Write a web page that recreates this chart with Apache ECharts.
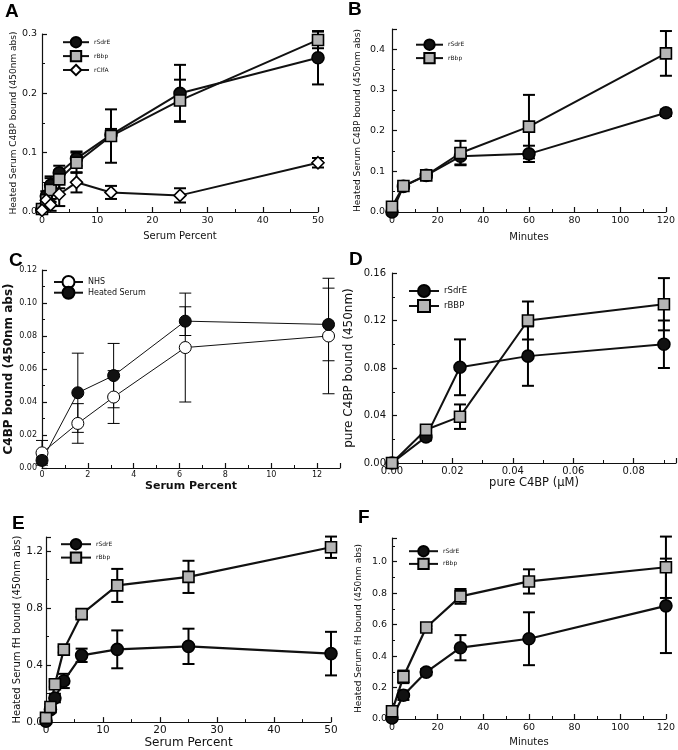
<!DOCTYPE html>
<html lang="en">
<head>
<meta charset="utf-8">
<title>C4BP and fH binding</title>
<style>
  html, body { margin: 0; padding: 0; background: #fff; }
  #chart { width: 678px; height: 750px; }
</style>
</head>
<body>
<div id="chart"></div>
<script src="https://cdn.jsdelivr.net/npm/echarts@6/dist/echarts.min.js"></script>
<script>
// ---- panel A: heated serum C4BP vs serum percent
var serumA = [0, 0.78, 1.56, 3.125, 6.25, 12.5, 25, 50];
var aSdrE = [0.005, 0.027, 0.045, 0.066, 0.09, 0.13, 0.2, 0.26];
var aSdrEErr = [0.003, 0.008, 0.015, 0.012, 0.012, 0.01, 0.048, 0.045];
var aBbp = [0.005, 0.02, 0.037, 0.055, 0.083, 0.128, 0.188, 0.29];
var aBbpErr = [0.003, 0.008, 0.02, 0.015, 0.017, 0.045, 0.035, 0.014];
var aClfA = [0.003, 0.02, 0.012, 0.03, 0.05, 0.033, 0.028, 0.083];
var aClfAErr = [0.002, 0.006, 0.01, 0.02, 0.017, 0.011, 0.012, 0.008];

// ---- panel B: heated serum C4BP vs minutes
var minutesB = [0, 5, 15, 30, 60, 120];
var bSdrE = [0.0, 0.063, 0.09, 0.137, 0.143, 0.244];
var bSdrEErr = [0.003, 0.005, 0.006, 0.02, 0.02, 0.008];
var bBbp = [0.013, 0.064, 0.09, 0.145, 0.21, 0.39];
var bBbpErr = [0.004, 0.006, 0.006, 0.03, 0.078, 0.055];

// ---- panel C: NHS vs heated serum
var serumC = [0, 1.5625, 3.125, 6.25, 12.5];
var cNHS = [0.0092, 0.027, 0.043, 0.073, 0.08];
var cNHSErr = [0.0075, 0.012, 0.016, 0.033, 0.035];
var cHeated = [0.0046, 0.0456, 0.056, 0.089, 0.087];
var cHeatedErr = [0.002, 0.024, 0.0195, 0.0087, 0.022];

// ---- panel D: pure C4BP
var c4bpD = [0, 0.01125, 0.0225, 0.045, 0.09];
var dSdrE = [0, 0.022, 0.0806, 0.09, 0.1];
var dSdrEErr = [0.001, 0.003, 0.0235, 0.025, 0.02];
var dBBP = [0, 0.028, 0.039, 0.12, 0.1337];
var dBBPErr = [0.001, 0.003, 0.0103, 0.016, 0.022];

// ---- panel E: heated serum fH vs serum percent
var serumE = [0, 0.78, 1.56, 3.125, 6.25, 12.5, 25, 50];
var eSdrE = [0.007, 0.088, 0.169, 0.289, 0.469, 0.511, 0.532, 0.481];
var eSdrEErr = [0.01, 0.02, 0.03, 0.05, 0.047, 0.133, 0.124, 0.153];
var eBbp = [0.03, 0.106, 0.266, 0.509, 0.758, 0.96, 1.02, 1.228];
var eBbpErr = [0.01, 0.02, 0.02, 0.02, 0.02, 0.116, 0.113, 0.075];

// ---- panel F: heated serum fH vs minutes
var minutesF = [0, 5, 15, 30, 60, 120];
var fSdrE = [0.006, 0.151, 0.298, 0.453, 0.51, 0.719];
var fSdrEErr = [0.01, 0.03, 0.02, 0.08, 0.168, 0.3];
var fBbp = [0.049, 0.268, 0.581, 0.779, 0.874, 0.964];
var fBbpErr = [0.01, 0.04, 0.01, 0.047, 0.077, 0.195];

var FONT = 'DejaVu Sans';
var INK = '#111';
var GREY = '#b5b5b5';

var marks = {
  circle: { symbol: 'circle', fill: INK, size: 12 },
  square: { symbol: 'rect', fill: GREY, size: 11 },
  diamond: { symbol: 'diamond', fill: '#fff', size: 12 },
  open: { symbol: 'circle', fill: '#fff', size: 12 }
};

function pairs(xs, ys) {
  return xs.map(function (x, i) { return [x, ys[i]]; });
}

function line(g, name, xs, ys, mark, lw) {
  var m = marks[mark];
  return {
    type: 'line', name: name, xAxisIndex: g, yAxisIndex: g, z: 3, clip: false,
    data: pairs(xs, ys), symbol: m.symbol, symbolSize: m.size,
    animation: false,
    lineStyle: { color: INK, width: lw },
    itemStyle: { color: m.fill, borderColor: '#000', borderWidth: lw > 1.5 ? 1.6 : 1 }
  };
}

// vertical error bar with caps, drawn under the markers
function errBars(g, xs, ys, errs, lw) {
  return {
    type: 'custom', xAxisIndex: g, yAxisIndex: g, z: 2, clip: false, silent: true,
    animation: false,
    data: xs.map(function (x, i) { return [x, ys[i] - errs[i], ys[i] + errs[i]]; }),
    encode: { x: 0, y: [1, 2] },
    renderItem: function (params, api) {
      var lo = api.coord([api.value(0), api.value(1)]);
      var hi = api.coord([api.value(0), api.value(2)]);
      var cap = 6;
      var st = { stroke: '#000', lineWidth: lw };
      return {
        type: 'group',
        children: [
          { type: 'line', shape: { x1: lo[0], y1: lo[1], x2: hi[0], y2: hi[1] }, style: st },
          { type: 'line', shape: { x1: lo[0] - cap, y1: lo[1], x2: lo[0] + cap, y2: lo[1] }, style: st },
          { type: 'line', shape: { x1: hi[0] - cap, y1: hi[1], x2: hi[0] + cap, y2: hi[1] }, style: st }
        ]
      };
    }
  };
}

function axis(o) {
  return {
    type: 'value', gridIndex: o.grid, min: 0, max: o.max, interval: o.step,
    name: o.name, nameLocation: 'middle', nameGap: o.gap,
    nameTextStyle: { fontFamily: FONT, fontSize: o.nameSize, fontWeight: o.bold ? 'bold' : 'normal', color: INK },
    axisLine: { show: true, onZero: false, lineStyle: { color: INK, width: 1.2 } },
    axisTick: { show: true, inside: true, length: 5, lineStyle: { color: INK, width: 1.2 } },
    minorTick: { show: true, splitNumber: 2, length: 3, lineStyle: { color: INK, width: 1 } },
    splitLine: { show: false },
    axisLabel: {
      fontFamily: FONT, fontSize: o.labelSize, color: INK, margin: o.margin,
      fontWeight: o.labelBold ? 'bold' : 'normal',
      showMaxLabel: o.hideMax ? false : null,
      formatter: function (v) { return v.toFixed(o.digits); }
    }
  };
}

function legend(names, left, top, w, h, gap, fs) {
  return {
    data: names, orient: 'vertical', left: left, top: top, padding: 0,
    itemWidth: w, itemHeight: h, itemGap: gap, selectedMode: false,
    textStyle: { fontFamily: FONT, fontSize: fs, color: INK }
  };
}

function letter(t, left, top) {
  return {
    text: t, left: left, top: top, padding: 0,
    textStyle: { fontFamily: 'Liberation Sans', fontSize: 19, fontWeight: 'bold', color: '#000' }
  };
}

var chart = echarts.init(document.getElementById('chart'), null, { renderer: 'canvas' });

var option = {
  backgroundColor: '#fff',
  animation: false,
  title: [
    letter('A', 5, 2), letter('B', 348, 0), letter('C', 9, 251),
    letter('D', 349, 250), letter('E', 12, 514), letter('F', 358, 508)
  ],
  legend: [
    legend(['rSdrE', 'rBbp', 'rClfA'], 62, 36, 26, 13, 1.5, 6),
    legend(['rSdrE', 'rBbp'], 415, 38.5, 27, 13, 1, 6),
    legend(['NHS', 'Heated Serum'], 53, 275, 29, 15, -3.3, 8),
    legend(['rSdrE', 'rBBP'], 408, 284, 30, 15, 1, 8.5),
    legend(['rSdrE', 'rBbp'], 60, 538, 30, 13, 1, 6),
    legend(['rSdrE', 'rBbp'], 408, 545, 29, 13, 0.3, 6)
  ],
  grid: [
    { left: 42, top: 34, width: 276, height: 178 },
    { left: 392, top: 29, width: 276, height: 183 },
    { left: 42, top: 270, width: 298, height: 198 },
    { left: 392, top: 273, width: 284, height: 190 },
    { left: 46, top: 537, width: 285, height: 187 },
    { left: 392, top: 538, width: 276, height: 181 }
  ],
  xAxis: [
    axis({ grid: 0, max: 50, step: 10, digits: 0, name: 'Serum Percent', gap: 19, nameSize: 10, labelSize: 9.5, margin: 4 }),
    axis({ grid: 1, max: 120, step: 20, digits: 0, name: 'Minutes', gap: 20, nameSize: 10, labelSize: 9.5, margin: 4 }),
    axis({ grid: 2, max: 13, step: 2, digits: 0, name: 'Serum Percent', gap: 13, nameSize: 11, bold: true, labelSize: 8, margin: 3, hideMax: true }),
    axis({ grid: 3, max: 0.094, step: 0.02, digits: 2, name: 'pure C4BP (\u03bcM)', gap: 10, nameSize: 11.5, labelSize: 10, margin: 3, hideMax: true }),
    axis({ grid: 4, max: 50, step: 10, digits: 0, name: 'Serum Percent', gap: 12, nameSize: 12, labelSize: 10.5, margin: 3 }),
    axis({ grid: 5, max: 120, step: 20, digits: 0, name: 'Minutes', gap: 18, nameSize: 10, labelSize: 9.5, margin: 4 })
  ],
  yAxis: [
    axis({ grid: 0, max: 0.3, step: 0.1, digits: 1, name: 'Heated Serum C4BP bound (450nm abs)', gap: 22, nameSize: 9, labelSize: 9.5, margin: 5 }),
    axis({ grid: 1, max: 0.45, step: 0.1, digits: 1, name: 'Heated Serum C4BP bound (450nm abs)', gap: 30, nameSize: 9, labelSize: 9.5, margin: 7, hideMax: true }),
    axis({ grid: 2, max: 0.12, step: 0.02, digits: 2, name: 'C4BP bound (450nm abs)', gap: 27, nameSize: 12, bold: true, labelSize: 8, margin: 5 }),
    axis({ grid: 3, max: 0.16, step: 0.04, digits: 2, name: 'pure C4BP bound (450nm)', gap: 37, nameSize: 12, labelSize: 10, margin: 6 }),
    axis({ grid: 4, max: 1.3, step: 0.4, digits: 1, name: 'Heated Serum fH bound (450nm abs)', gap: 24, nameSize: 10, labelSize: 10.5, margin: 3, hideMax: true }),
    axis({ grid: 5, max: 1.15, step: 0.2, digits: 1, name: 'Heated Serum fH bound (450nm abs)', gap: 29, nameSize: 9, labelSize: 9.5, margin: 5, hideMax: true })
  ],
  series: [
    errBars(0, serumA, aSdrE, aSdrEErr, 2),
    errBars(0, serumA, aBbp, aBbpErr, 2),
    errBars(0, serumA, aClfA, aClfAErr, 2),
    line(0, 'rSdrE', serumA, aSdrE, 'circle', 2),
    line(0, 'rBbp', serumA, aBbp, 'square', 2),
    line(0, 'rClfA', serumA, aClfA, 'diamond', 2),

    errBars(1, minutesB, bSdrE, bSdrEErr, 2),
    errBars(1, minutesB, bBbp, bBbpErr, 2),
    line(1, 'rSdrE', minutesB, bSdrE, 'circle', 2),
    line(1, 'rBbp', minutesB, bBbp, 'square', 2),

    errBars(2, serumC, cNHS, cNHSErr, 1),
    errBars(2, serumC, cHeated, cHeatedErr, 1),
    line(2, 'NHS', serumC, cNHS, 'open', 1),
    line(2, 'Heated Serum', serumC, cHeated, 'circle', 1),

    errBars(3, c4bpD, dSdrE, dSdrEErr, 2),
    errBars(3, c4bpD, dBBP, dBBPErr, 2),
    line(3, 'rSdrE', c4bpD, dSdrE, 'circle', 2),
    line(3, 'rBBP', c4bpD, dBBP, 'square', 2),

    errBars(4, serumE, eSdrE, eSdrEErr, 2),
    errBars(4, serumE, eBbp, eBbpErr, 2),
    line(4, 'rSdrE', serumE, eSdrE, 'circle', 2.2),
    line(4, 'rBbp', serumE, eBbp, 'square', 2.2),

    errBars(5, minutesF, fSdrE, fSdrEErr, 2),
    errBars(5, minutesF, fBbp, fBbpErr, 2),
    line(5, 'rSdrE', minutesF, fSdrE, 'circle', 2.2),
    line(5, 'rBbp', minutesF, fBbp, 'square', 2.2)
  ]
};

chart.setOption(option);
</script>
</body>
</html>
